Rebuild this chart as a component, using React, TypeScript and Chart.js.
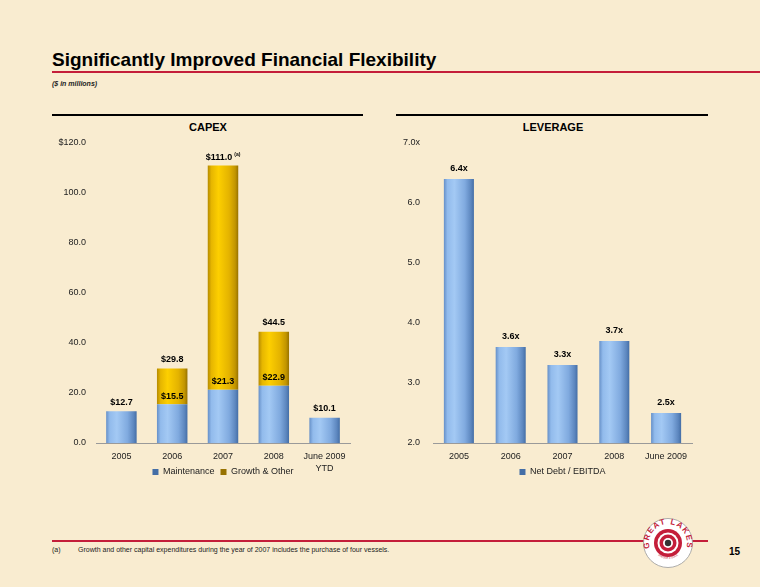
import React, { useEffect, useRef } from 'react';
import { Chart, registerables } from 'chart.js';

Chart.register(...registerables);

const FONT = "'Liberation Sans', Arial, Helvetica, sans-serif";

// ---------- CAPEX data ----------
const capexCategories: (string | string[])[] = ['2005', '2006', '2007', '2008', ['June 2009', 'YTD']];
const maintenance = [12.7, 15.5, 21.3, 22.9, 10.1];
const growthOther = [0, 14.3, 89.7, 21.6, 0];
const capexTotals = [12.7, 29.8, 111.0, 44.5, 10.1];
const capexFootnoteMarks = ['', '', '(a)', '', ''];
const capexTickLabels = ['0.0', '20.0', '40.0', '60.0', '80.0', '100.0', '$120.0'];

// ---------- LEVERAGE data ----------
const leverageCategories = ['2005', '2006', '2007', '2008', 'June 2009'];
const netDebtEbitda = [6.4, 3.6, 3.3, 3.7, 2.5];
const leverageTickLabels = ['2.0', '3.0', '4.0', '5.0', '6.0', '7.0x'];

const BLUE_STOPS: [number, string][] = [
  [0, '#6690c8'],
  [0.12, '#92bbec'],
  [0.35, '#a3c9f4'],
  [0.7, '#80aadf'],
  [0.9, '#5d87bf'],
  [1, '#446ea6'],
];
const GOLD_STOPS: [number, string][] = [
  [0, '#b58a00'],
  [0.12, '#e6b600'],
  [0.35, '#fdcf00'],
  [0.7, '#e4b300'],
  [0.9, '#c29500'],
  [1, '#977200'],
];

function cylinder(stops: [number, string][], fallback: string, pct: number) {
  return (ctx: any) => {
    if (ctx.type !== 'data') return fallback;
    const chart = ctx.chart;
    const xs = chart.scales && chart.scales.x;
    if (!xs || !chart.chartArea) return fallback;
    const n = chart.data.labels.length;
    const cx = xs.getPixelForValue(ctx.dataIndex);
    const hw = ((xs.width / n) * pct) / 2;
    if (!isFinite(cx) || !isFinite(hw) || hw <= 0) return fallback;
    const g = chart.ctx.createLinearGradient(cx - hw, 0, cx + hw, 0);
    stops.forEach(([o, c]) => g.addColorStop(o, c));
    return g;
  };
}

const legendShift = (dy: number) => ({
  id: 'legendShift',
  afterLayout(chart: any) {
    const l = chart.legend;
    if (l) {
      l.top -= dy;
      l.bottom -= dy;
    }
  },
});

const capexLabelsPlugin = {
  id: 'capexLabels',
  afterDatasetsDraw(chart: any) {
    const { ctx } = chart;
    const x = chart.scales.x;
    const y = chart.scales.y;
    ctx.save();
    ctx.fillStyle = '#000';
    ctx.textBaseline = 'middle';
    capexTotals.forEach((t, i) => {
      const cx = x.getPixelForValue(i);
      const top = y.getPixelForValue(t);
      const txt = '$' + t.toFixed(1);
      ctx.font = `bold 9px ${FONT}`;
      const w = ctx.measureText(txt).width;
      const mark = capexFootnoteMarks[i];
      if (mark) {
        ctx.font = `bold 5px ${FONT}`;
        const mw = ctx.measureText(mark).width;
        const start = cx - (w + 2 + mw) / 2;
        ctx.textAlign = 'left';
        ctx.fillText(mark, start + w + 2, top - 11);
        ctx.font = `bold 9px ${FONT}`;
        ctx.fillText(txt, start, top - 8);
      } else {
        ctx.textAlign = 'center';
        ctx.fillText(txt, cx, top - 9);
      }
      if (growthOther[i] > 0) {
        ctx.font = `bold 9px ${FONT}`;
        ctx.textAlign = 'center';
        ctx.fillText('$' + maintenance[i].toFixed(1), cx, y.getPixelForValue(maintenance[i]) - 8);
      }
    });
    ctx.restore();
  },
};

const leverageLabelsPlugin = {
  id: 'leverageLabels',
  afterDatasetsDraw(chart: any) {
    const { ctx } = chart;
    const x = chart.scales.x;
    const y = chart.scales.y;
    ctx.save();
    ctx.fillStyle = '#000';
    ctx.textBaseline = 'middle';
    ctx.textAlign = 'center';
    ctx.font = `bold 9px ${FONT}`;
    netDebtEbitda.forEach((v, i) => {
      ctx.fillText(v.toFixed(1) + 'x', x.getPixelForValue(i), y.getPixelForValue(v) - 10);
    });
    ctx.restore();
  },
};

function CapexChart() {
  const ref = useRef<HTMLCanvasElement>(null);
  useEffect(() => {
    if (!ref.current) return;
    const chart = new Chart(ref.current, {
      type: 'bar',
      data: {
        labels: capexCategories as any,
        datasets: [
          {
            label: 'Maintenance',
            data: maintenance,
            backgroundColor: cylinder(BLUE_STOPS, '#7ea8dc', 0.6) as any,
            borderWidth: 0,
            stack: 's',
          },
          {
            label: 'Growth & Other',
            data: growthOther,
            backgroundColor: cylinder(GOLD_STOPS, '#e0b000', 0.6) as any,
            borderWidth: 0,
            stack: 's',
          },
        ],
      },
      options: {
        animation: false,
        responsive: false,
        layout: { padding: { top: 13, right: 10, bottom: 4, left: 0 } },
        datasets: { bar: { barPercentage: 0.6, categoryPercentage: 1 } },
        scales: {
          x: {
            stacked: true,
            grid: { display: false, drawTicks: false },
            border: { display: true, color: '#9a9a9a', width: 1 },
            ticks: {
              font: { size: 9, family: FONT, lineHeight: 1.3 },
              color: '#222',
              padding: 8,
              maxRotation: 0,
              autoSkip: false,
            },
            afterFit: (s: any) => {
              s.height = 30;
            },
          },
          y: {
            stacked: true,
            min: 0,
            max: 120,
            grid: { display: false, drawTicks: false },
            border: { display: false },
            ticks: {
              stepSize: 20,
              font: { size: 9, family: FONT },
              color: '#222',
              padding: 10,
              callback: (_v: any, i: number) => capexTickLabels[i],
            },
            afterFit: (s: any) => {
              s.width = 56;
              s.paddingTop = 0;
              s.paddingBottom = 0;
            },
          },
        },
        plugins: {
          legend: {
            position: 'bottom',
            fullSize: false,
            labels: {
              boxWidth: 6,
              boxHeight: 6,
              padding: 6,
              font: { size: 9, family: FONT },
              color: '#222',
            },
          },
          tooltip: { enabled: false },
        },
      } as any,
      plugins: [capexLabelsPlugin, legendShift(11.5)],
    });
    return () => chart.destroy();
  }, []);
  return (
    <canvas
      ref={ref}
      width={320}
      height={372}
      style={{ position: 'absolute', left: 40, top: 130, width: 320, height: 372 }}
    />
  );
}

function LeverageChart() {
  const ref = useRef<HTMLCanvasElement>(null);
  useEffect(() => {
    if (!ref.current) return;
    const chart = new Chart(ref.current, {
      type: 'bar',
      data: {
        labels: leverageCategories,
        datasets: [
          {
            label: 'Net Debt / EBITDA',
            data: netDebtEbitda,
            backgroundColor: cylinder(BLUE_STOPS, '#7ea8dc', 0.58) as any,
            borderWidth: 0,
          },
        ],
      },
      options: {
        animation: false,
        responsive: false,
        layout: { padding: { top: 13, right: 18, bottom: 4, left: 0 } },
        datasets: { bar: { barPercentage: 0.58, categoryPercentage: 1 } },
        scales: {
          x: {
            grid: { display: false, drawTicks: false },
            border: { display: true, color: '#9a9a9a', width: 1 },
            ticks: {
              font: { size: 9, family: FONT, lineHeight: 1.3 },
              color: '#222',
              padding: 8,
              maxRotation: 0,
              autoSkip: false,
            },
            afterFit: (s: any) => {
              s.height = 30;
            },
          },
          y: {
            min: 2,
            max: 7,
            grid: { display: false, drawTicks: false },
            border: { display: false },
            ticks: {
              stepSize: 1,
              font: { size: 9, family: FONT },
              color: '#222',
              padding: 13,
              callback: (_v: any, i: number) => leverageTickLabels[i],
            },
            afterFit: (s: any) => {
              s.width = 53;
              s.paddingTop = 0;
              s.paddingBottom = 0;
            },
          },
        },
        plugins: {
          legend: {
            position: 'bottom',
            fullSize: false,
            labels: {
              boxWidth: 6,
              boxHeight: 6,
              padding: 6,
              font: { size: 9, family: FONT },
              color: '#222',
            },
          },
          tooltip: { enabled: false },
        },
      } as any,
      plugins: [leverageLabelsPlugin, legendShift(11.5)],
    });
    return () => chart.destroy();
  }, []);
  return (
    <canvas
      ref={ref}
      width={330}
      height={372}
      style={{ position: 'absolute', left: 380, top: 130, width: 330, height: 372 }}
    />
  );
}

const RED = '#c41e3a';

function Logo() {
  return (
    <svg
      width={52}
      height={52}
      viewBox="0 0 52 52"
      style={{ position: 'absolute', left: 642, top: 517 }}
    >
      <defs>
        <path id="glTop" d="M 10.4,36.9 A 19,19 0 1 1 41.6,36.9" />
        <path id="glBot" d="M 12,33 A 15.5,15.5 0 0 0 40,33" />
      </defs>
      <circle cx={26} cy={26} r={24.5} fill="#fff" stroke="#999" strokeWidth={0.8} />
      <text fontFamily={FONT} fontWeight="bold" fontSize={8} fill={RED} letterSpacing={1.2}>
        <textPath href="#glTop" startOffset="50%" textAnchor="middle">
          GREAT LAKES
        </textPath>
      </text>
      <text fontFamily={FONT} fontSize={2.6} fill={RED}>
        <textPath href="#glBot" startOffset="50%" textAnchor="middle">
          DREDGE &amp; DOCK
        </textPath>
      </text>
      <circle cx={26} cy={26} r={14} fill={RED} />
      <circle cx={26} cy={26} r={10.5} fill="#fff" />
      <circle cx={26} cy={26} r={8.5} fill={RED} />
      <circle cx={26} cy={26} r={5} fill="#fff" />
      <circle cx={26} cy={26} r={3.2} fill="#333" />
    </svg>
  );
}

export default function App() {
  const abs = (s: React.CSSProperties): React.CSSProperties => ({ position: 'absolute', ...s });
  return (
    <div
      style={{
        position: 'fixed',
        left: 0,
        top: 0,
        width: 760,
        height: 587,
        overflow: 'hidden',
        background: '#f9ecd0',
        fontFamily: FONT,
        color: '#000',
      }}
    >
      <div style={abs({ left: 52, top: 49, fontSize: 19, fontWeight: 'bold', lineHeight: '22px', whiteSpace: 'nowrap' })}>
        Significantly Improved Financial Flexibility
      </div>
      <div style={abs({ left: 52, top: 70.5, width: 708, height: 2.5, background: RED })} />
      <div style={abs({ left: 52, top: 79, fontSize: 7, fontStyle: 'italic', fontWeight: 'bold', lineHeight: '10px', color: '#222' })}>
        ($ in millions)
      </div>

      <div style={abs({ left: 52, top: 113.5, width: 311, height: 2, background: '#000' })} />
      <div style={abs({ left: 108, width: 200, top: 120, textAlign: 'center', fontSize: 11, fontWeight: 'bold', lineHeight: '14px' })}>
        CAPEX
      </div>
      <div style={abs({ left: 396, top: 113.5, width: 312, height: 2, background: '#000' })} />
      <div style={abs({ left: 453, width: 200, top: 120, textAlign: 'center', fontSize: 11, fontWeight: 'bold', lineHeight: '14px' })}>
        LEVERAGE
      </div>

      <CapexChart />
      <LeverageChart />

      <div style={abs({ left: 52, top: 540, width: 656, height: 2, background: RED })} />
      <div style={abs({ left: 52, top: 545, fontSize: 7, lineHeight: '9px', color: '#222' })}>(a)</div>
      <div style={abs({ left: 78, top: 545, fontSize: 7, lineHeight: '9px', color: '#222', whiteSpace: 'nowrap' })}>
        Growth and other capital expenditures during the year of 2007 includes the purchase of four vessels.
      </div>
      <Logo />
      <div style={abs({ left: 729, top: 546, fontSize: 10, fontWeight: 'bold', lineHeight: '12px' })}>15</div>
    </div>
  );
}
